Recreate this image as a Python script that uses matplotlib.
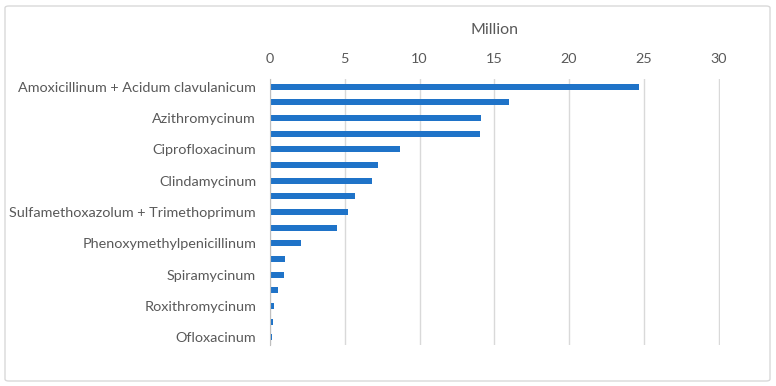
import matplotlib.pyplot as plt
from matplotlib.patches import FancyBboxPatch

# categories top -> bottom; only every other one is labelled in the original
labels = ["Amoxicillinum + Acidum clavulanicum", "", "Azithromycinum", "",
          "Ciprofloxacinum", "", "Clindamycinum", "",
          "Sulfamethoxazolum + Trimethoprimum", "", "Phenoxymethylpenicillinum", "",
          "Spiramycinum", "", "Roxithromycinum", "", "Ofloxacinum"]
values = [24.7, 16.0, 14.13, 14.07, 8.7, 7.25, 6.8, 5.7, 5.23, 4.47,
          2.09, 1.02, 0.93, 0.56, 0.29, 0.22, 0.11]
xticks = [0, 5, 10, 15, 20, 25, 30]

plt.rcParams['font.family'] = ['Lato', 'DejaVu Sans']
gray = '#595959'

fig = plt.figure(figsize=(7.76, 3.86), dpi=100)
ax = fig.add_axes([270 / 776, 1 - 345 / 386, 450 / 776, 266 / 386])

pos = list(range(len(values)))
ax.barh(pos, values, height=0.38, color='#1F73C8')
ax.set_ylim(len(values) - 0.5, -0.5)
ax.set_xlim(0, 30.1)

ax.set_yticks(pos)
ax.set_yticklabels(labels, fontsize=10.4, color=gray)
ax.set_xticks(xticks)
ax.set_xticklabels([str(t) for t in xticks], fontsize=10.4, color=gray)
ax.xaxis.tick_top()
ax.xaxis.set_label_position('top')
ax.set_xlabel('Million', fontsize=11.5, color=gray, labelpad=14)
ax.tick_params(length=0)
ax.tick_params(axis='x', pad=10)
ax.tick_params(axis='y', pad=10)

ax.grid(axis='x', color='#d9d9d9', linewidth=1)
ax.set_axisbelow(True)
for s in ['top', 'right', 'bottom']:
    ax.spines[s].set_visible(False)
ax.spines['left'].set_color('#bfbfbf')

border = FancyBboxPatch((5 / 776, 5 / 386), 765 / 776, 375 / 386,
                        boxstyle='round,pad=0,rounding_size=0.005',
                        transform=fig.transFigure, facecolor='none',
                        edgecolor='#d9d9d9', linewidth=1)
fig.patches.append(border)

fig.savefig('out.png', dpi=100)
